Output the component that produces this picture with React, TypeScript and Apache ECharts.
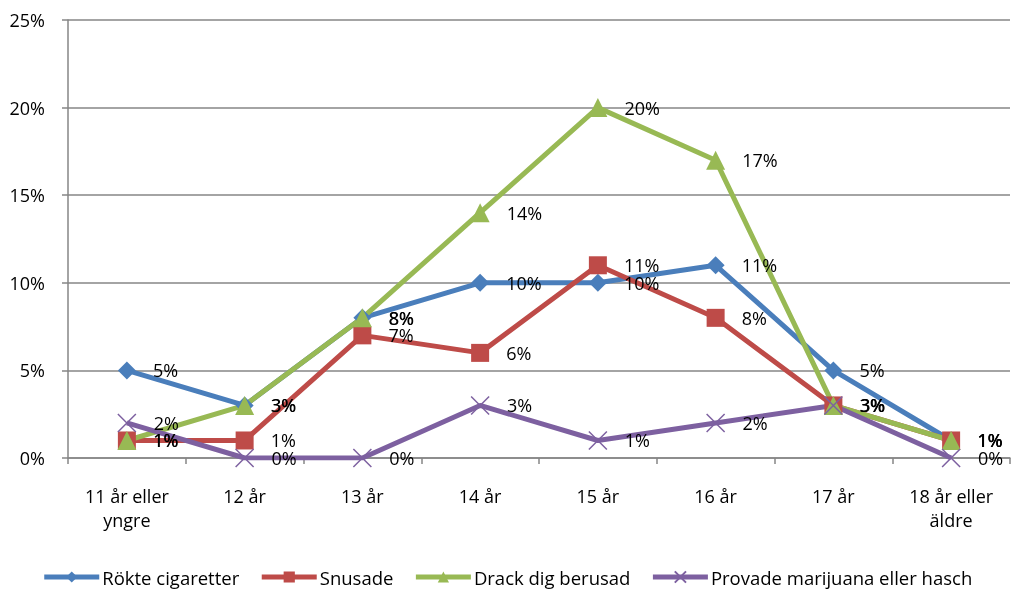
import React, { useEffect, useRef } from "react";
import * as echarts from "echarts";

const categories = ["11 år eller\nyngre", "12 år", "13 år", "14 år", "15 år", "16 år", "17 år", "18 år eller\näldre"];
const yTicks = [0, 5, 10, 15, 20, 25];
const rokte = [5, 3, 8, 10, 10, 11, 5, 1];
const snusade = [1, 1, 7, 6, 11, 8, 3, 1];
const drack = [1, 3, 8, 14, 20, 17, 3, 1];
const provade = [2, 0, 0, 3, 1, 2, 3, 0];

const FONT = "'Open Sans', Lato, sans-serif";

export default function App() {
  const ref = useRef<HTMLDivElement>(null);
  useEffect(() => {
    if (!ref.current) return;
    const chart = echarts.init(ref.current, null, { renderer: "svg" });
    const label = {
      show: true,
      position: "right" as const,
      distance: 17,
      formatter: "{c}%",
      color: "#000",
      fontFamily: FONT,
      fontSize: 18,
    };
    const mk = (name: string, data: number[], color: string, symbol: string, size: number, extra: any = {}) => ({
      name,
      type: "line",
      data,
      symbol,
      symbolSize: size,
      lineStyle: { color, width: 5 },
      itemStyle: { color, ...extra },
      label,
      emphasis: { disabled: true },
    });
    chart.setOption({
      animation: false,
      grid: { left: 68, right: 4, top: 20, bottom: 136 },
      xAxis: {
        type: "category",
        data: categories,
        boundaryGap: true,
        axisLine: { lineStyle: { color: "#868686", width: 1.5 } },
        axisTick: { show: true, length: 6, lineStyle: { color: "#868686", width: 1.5 } },
        axisLabel: { color: "#000", fontFamily: FONT, fontSize: 18, margin: 26, lineHeight: 24 },
      },
      yAxis: {
        type: "value",
        min: yTicks[0],
        max: yTicks[yTicks.length - 1],
        interval: 5,
        axisLine: { show: true, lineStyle: { color: "#868686", width: 1.5 } },
        axisTick: { show: true, length: 6, lineStyle: { color: "#868686", width: 1.5 } },
        splitLine: { lineStyle: { color: "#868686", width: 1.5 } },
        axisLabel: { color: "#000", fontFamily: FONT, fontSize: 18, margin: 23, formatter: "{value}%" },
      },
      legend: {
        top: 566,
        left: "center",
        padding: 0,
        itemWidth: 55,
        itemHeight: 14,
        itemGap: 20,
        lineStyle: { width: 5 },
        textStyle: { color: "#000", fontFamily: FONT, fontSize: 18.5, padding: [0, 0, 0, -2], lineHeight: 22 },
        data: ["Rökte cigaretter", "Snusade", "Drack dig berusad", "Provade marijuana eller hasch"],
      },
      series: [
        mk("Rökte cigaretter", rokte, "#4A7EBB", "diamond", 18),
        mk("Snusade", snusade, "#BE4B48", "rect", 18),
        mk("Drack dig berusad", drack, "#98B954", "triangle", 19),
        mk("Provade marijuana eller hasch", provade, "#7D60A0", "path://M0,0L10,10M10,0L0,10", 18, {
          borderColor: "#7D60A0",
          borderWidth: 1.5,
        }),
      ],
    });
    return () => chart.dispose();
  }, []);
  return <div ref={ref} style={{ position: "fixed", left: 0, top: 0, width: 1014, height: 594 }} />;
}
